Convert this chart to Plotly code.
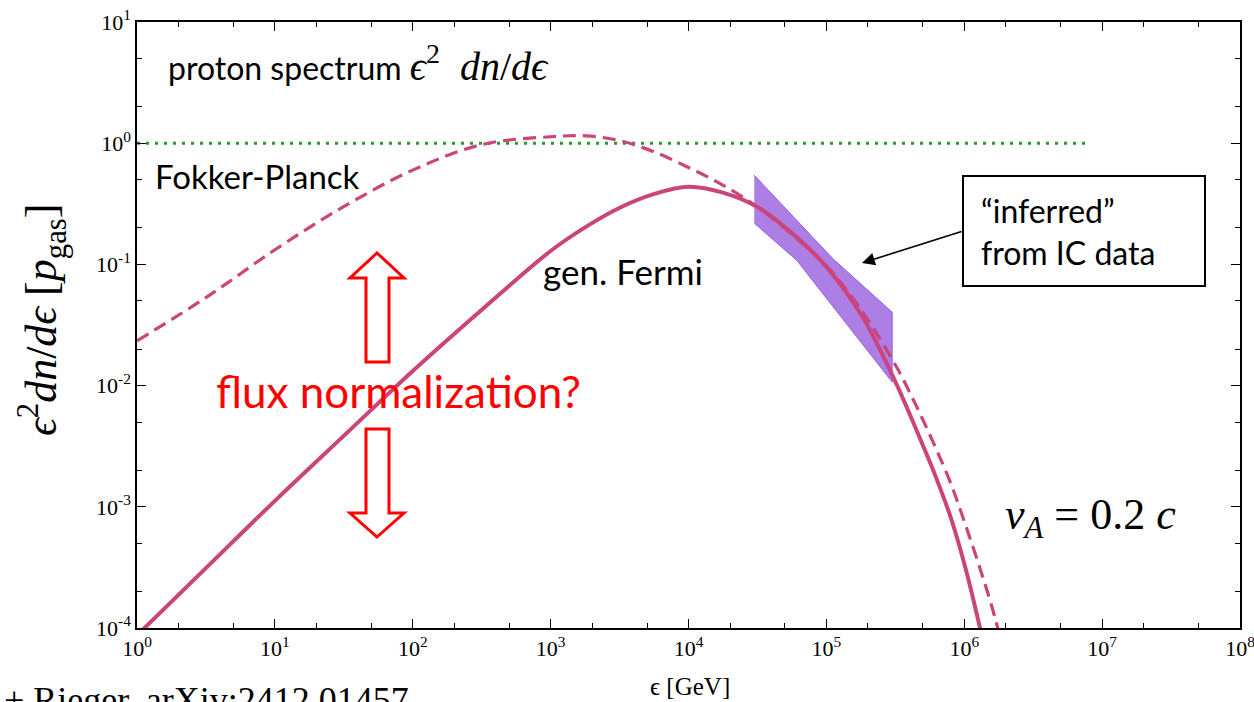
import plotly.graph_objects as go

# ---------------- data ----------------
eps_fermi = [1, 3.2, 10, 32, 100, 320, 1e3, 1.8e3, 3.2e3, 5.6e3, 1e4, 1.8e4, 3.2e4, 5.6e4, 1e5,
             1.8e5, 3.2e5, 4e5, 5e5, 6.3e5, 8e5, 1e6, 1.26e6, 1.6e6]
val_fermi = [8.7e-5, 3.16e-4, 1.12e-3, 3.9e-3, 0.0132, 0.0427, 0.129, 0.204, 0.295, 0.38, 0.437,
             0.389, 0.295, 0.182, 0.0955, 0.038, 0.0105, 5.9e-3, 3.24e-3, 1.7e-3, 8.1e-4,
             3.4e-4, 1.17e-4, 3.4e-5]

eps_fp = [1, 3.2, 10, 32, 100, 320, 1e3, 1.8e3, 3.2e3, 5.6e3, 1e4, 1.8e4, 3.2e4, 5.6e4, 1e5,
          1.8e5, 3.2e5, 4e5, 5e5, 6.3e5, 8e5, 1e6, 1.26e6, 1.6e6, 2e6]
val_fp = [0.0234, 0.0537, 0.132, 0.302, 0.60, 0.977, 1.13, 1.15, 1.047, 0.851, 0.631,
          0.447, 0.295, 0.178, 0.0977, 0.0417, 0.0145, 8.9e-3, 5.25e-3, 2.95e-3, 1.55e-3,
          7.6e-4, 3.47e-4, 1.45e-4, 5.5e-5]

band_eps_upper = [3e4, 1.11e5, 3e5]
band_upper = [0.544, 0.112, 0.0403]
band_eps_lower = [3e4, 6.1e4, 3e5]
band_lower = [0.219, 0.108, 0.0107]

ref_eps = [1, 8e6]
ref_val = [1.0, 1.0]

x_tick_vals = [10 ** k for k in range(0, 9)]
x_tick_text = ["10<sup>%d</sup>" % k for k in range(0, 9)]
y_tick_vals = [10.0 ** k for k in range(-4, 2)]
y_tick_text = ["10<sup>%d</sup>" % k for k in range(-4, 2)]

# ---------------- styles ----------------
W, H = 1254, 702
ML, MT = 137, 22
PW, PH = 1103, 606
MR, MB = W - ML - PW, H - MT - PH
CURVE = "#c9457a"
SERIF = "Liberation Serif"
SANS = "Lato"


def px(x):
    return (x - ML) / PW


def py(y):
    return (H - MB - y) / PH


fig = go.Figure()

# purple band
fig.add_trace(go.Scatter(
    x=band_eps_upper + band_eps_lower[::-1],
    y=band_upper + band_lower[::-1],
    fill="toself", mode="lines",
    fillcolor="rgba(150,90,220,0.78)",
    line=dict(color="rgb(150,90,235)", width=1),
    hoverinfo="skip", showlegend=False))

# green reference line
fig.add_trace(go.Scatter(x=ref_eps, y=ref_val, mode="lines",
                         line=dict(color="#22a022", width=3, dash="3px,6px"),
                         showlegend=False))

# Fokker-Planck (dashed)
fig.add_trace(go.Scatter(x=eps_fp, y=val_fp, mode="lines",
                         line=dict(color=CURVE, width=3.2, dash="13px,7px", shape="spline", smoothing=1.0),
                         showlegend=False))

# generalized Fermi (solid)
fig.add_trace(go.Scatter(x=eps_fermi, y=val_fermi, mode="lines",
                         line=dict(color=CURVE, width=4, shape="spline", smoothing=1.0),
                         showlegend=False))

axis_common = dict(
    type="log", showgrid=False, zeroline=False, automargin=False, ticklabeloverflow="allow",
    showline=True, linecolor="black", linewidth=1.5, mirror="allticks",
    ticks="inside", ticklen=9, tickwidth=1.3, tickcolor="black",
    minor=dict(ticks="inside", ticklen=5, tickwidth=1, tickcolor="black", showgrid=False),
    tickfont=dict(family=SERIF, size=22, color="black"),
)

fig.update_xaxes(range=[0, 8], tickmode="array", tickvals=x_tick_vals, ticktext=x_tick_text, **axis_common)
fig.update_yaxes(range=[-4, 1], tickmode="array", tickvals=y_tick_vals, ticktext=y_tick_text, **axis_common)

annotations = []


def text(x, y, s, size, color="black", family=SANS, xanchor="left", yanchor="middle", angle=0, align="left"):
    annotations.append(dict(x=px(x), y=py(y), xref="paper", yref="paper", text=s, showarrow=False,
                            xanchor=xanchor, yanchor=yanchor, textangle=angle, align=align,
                            font=dict(family=family, size=size, color=color)))


text(166, 64, "proton spectrum <span style='font-family:Liberation Serif;font-size:40px'>"
              "<i>ϵ</i><sup>2</sup>&nbsp;&nbsp;<i>dn</i>/<i>dϵ</i></span>", 32)
text(153, 176, "Fokker-Planck", 33)
text(541, 271, "gen. Fermi", 35)
text(214, 391, "flux normalization?", 44, color="red")
text(1003, 517, "<i>v</i><sub><i>A</i></sub> = 0.2 <i>c</i>", 44, family=SERIF)
text(979, 231, "“inferred”<br>from IC data", 32)
text(690, 686, "ϵ [GeV]", 25, family=SERIF, xanchor="center")
text(42, 320, "<i>ϵ</i><sup>2</sup><i>dn</i>/<i>dϵ</i> [<i>p</i><sub>gas</sub>]", 44, family=SERIF,
     xanchor="center", angle=-90)
text(2, 678, "+ Rieger, arXiv:2412.01457", 36, family=SERIF, yanchor="top")

# arrow to band
annotations.append(dict(x=px(862), y=py(263), xref="paper", yref="paper", text="",
                        showarrow=True, ax=101, ay=-32, arrowhead=2, arrowsize=1.6,
                        arrowwidth=1.6, arrowcolor="black"))

fig.update_layout(annotations=annotations)

shapes = []
# box around "inferred" text
shapes.append(dict(type="rect", xref="paper", yref="paper",
                   x0=px(963), x1=px(1205), y0=py(286), y1=py(176),
                   line=dict(color="black", width=2), fillcolor="rgba(0,0,0,0)"))


def arrow_path(points):
    return "M " + " L ".join("%f,%f" % (px(a), py(b)) for a, b in points) + " Z"


up = [(377, 253), (404, 278), (389, 278), (389, 362), (366, 362), (366, 278), (350, 278)]
down = [(377, 537), (404, 513), (389, 513), (389, 429), (366, 429), (366, 513), (350, 513)]
for pts in (up, down):
    shapes.append(dict(type="path", xref="paper", yref="paper", path=arrow_path(pts),
                       line=dict(color="red", width=3), fillcolor="white"))

fig.update_layout(
    shapes=shapes,
    width=W, height=H, autosize=False,
    margin=dict(l=ML, r=MR, t=MT, b=MB, pad=0),
    paper_bgcolor="white", plot_bgcolor="white",
    showlegend=False,
)

fig.write_html("out.html",
               config={"displayModeBar": False},
               post_script="document.body.style.margin='0';document.body.style.overflow='hidden';")
